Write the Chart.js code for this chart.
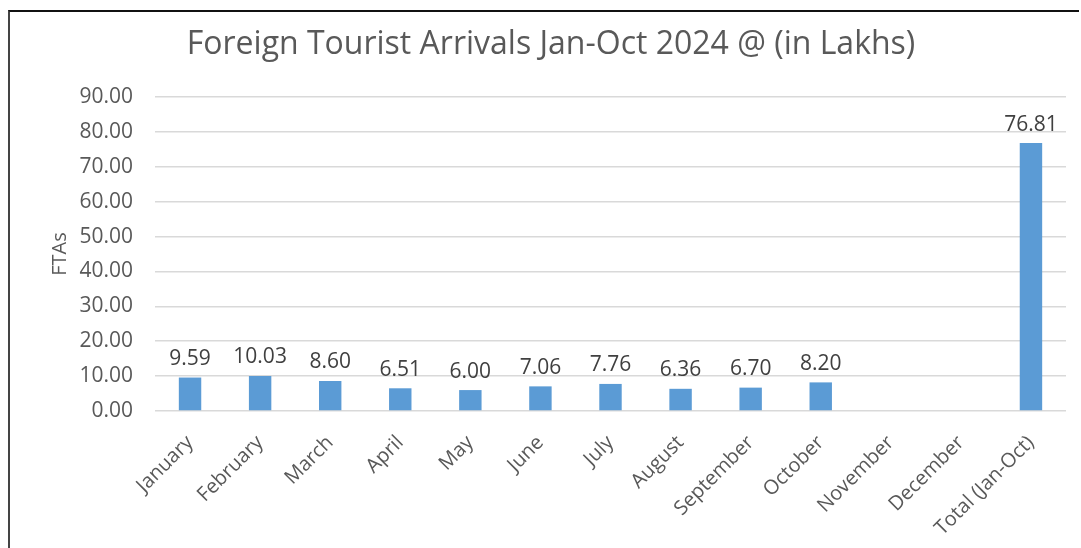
<!DOCTYPE html>
<html>
<head>
<meta charset="utf-8">
<script src="https://cdn.jsdelivr.net/npm/chart.js@4"></script>
<style>
  html, body { margin: 0; padding: 0; background: #fff; }
  body { width: 1081px; height: 548px; position: relative; overflow: hidden; }
  #frame {
    position: absolute; left: 8px; top: 10px; width: 1069px; height: 560px;
    border-left: 2px solid #444; border-top: 2px solid #111;
  }
  #wrap { position: absolute; left: 0; top: 0; width: 1081px; height: 548px; }
</style>
</head>
<body>
<div id="frame"></div>
<div id="wrap"><canvas id="ftaChart" width="1081" height="548"></canvas></div>
<script>
// Chart data
const months = ['January', 'February', 'March', 'April', 'May', 'June', 'July',
                'August', 'September', 'October', 'November', 'December', 'Total (Jan-Oct)'];
const arrivals = [9.59, 10.03, 8.60, 6.51, 6.00, 7.06, 7.76, 6.36, 6.70, 8.20, null, null, 76.81];
const yTicks = [0, 10, 20, 30, 40, 50, 60, 70, 80, 90];

const textGrey = '#595959';
const fontFamily = '"Open Sans", sans-serif';

// Draws the title and the value labels above each bar
const labelPlugin = {
    id: 'labelPlugin',
    afterDatasetsDraw(chart) {
        const ctx = chart.ctx;
        ctx.save();
        ctx.fillStyle = textGrey;
        ctx.font = '32px ' + fontFamily;
        ctx.textAlign = 'center';
        ctx.textBaseline = 'middle';
        ctx.fillText('Foreign Tourist Arrivals Jan-Oct 2024 @ (in Lakhs)', 551, 45);

        ctx.fillStyle = '#404040';
        ctx.font = '21px ' + fontFamily;
        ctx.textBaseline = 'bottom';
        const meta = chart.getDatasetMeta(0);
        meta.data.forEach((bar, i) => {
            if (arrivals[i] === null) return;
            ctx.fillText(arrivals[i].toFixed(2), bar.x, bar.y - 8);
        });
        ctx.restore();
    }
};

const ctx = document.getElementById('ftaChart').getContext('2d');
new Chart(ctx, {
    type: 'bar',
    data: {
        labels: months,
        datasets: [{
            label: 'FTAs',
            data: arrivals,
            backgroundColor: '#5b9bd5',
            borderWidth: 0,
            categoryPercentage: 1,
            barPercentage: 0.32
        }]
    },
    options: {
        responsive: false,
        animation: false,
        layout: { padding: { top: 97, right: 15, left: 48, bottom: 0 } },
        plugins: {
            legend: { display: false },
            title: { display: false },
            tooltip: { enabled: false }
        },
        scales: {
            x: {
                grid: { display: false },
                border: { display: false },
                ticks: {
                    color: textGrey,
                    font: { family: fontFamily, size: 20 },
                    minRotation: 45,
                    maxRotation: 45,
                    padding: 12
                },
                afterFit(scale) { scale.height = 137; }
            },
            y: {
                min: 0,
                max: 90,
                afterBuildTicks(scale) { scale.ticks = yTicks.map(v => ({ value: v })); },
                grid: { color: '#d9d9d9', lineWidth: 1.5, drawTicks: false },
                border: { display: false },
                ticks: {
                    color: textGrey,
                    font: { family: fontFamily, size: 21 },
                    padding: 22,
                    callback: v => Number(v).toFixed(2)
                },
                title: {
                    display: true,
                    text: 'FTAs',
                    color: textGrey,
                    font: { family: fontFamily, size: 20 },
                    padding: 0
                },
                afterFit(scale) { scale.width = 107; }
            }
        }
    },
    plugins: [labelPlugin]
});
</script>
</body>
</html>
